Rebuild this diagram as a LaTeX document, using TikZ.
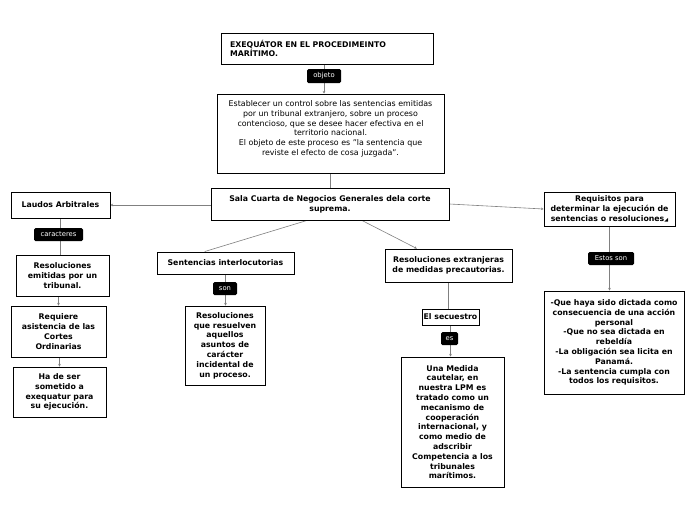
\documentclass[tikz,border=0pt]{standalone}
\usepackage{fontspec}
\setmainfont{DejaVu Sans}
\usetikzlibrary{arrows.meta,calc,backgrounds}
\begin{document}
\begin{tikzpicture}[x=1pt,y=-1pt,
 box/.style={draw=black,fill=white,line width=1pt,inner sep=0pt,align=center,font=\bfseries\fontsize{7.8}{9.8}\selectfont},
 tag/.style={fill=black,text=white,rounded corners=1.5pt,inner sep=0pt,font=\fontsize{6.8}{7}\selectfont},
 conn/.style={draw=black!50,line width=0.6pt},
 tip/.style={-{Stealth[length=2.5pt,width=2.5pt]}}]
\useasboundingbox (0,0) rectangle (696,520);
\node[box,minimum width=212,minimum height=31,text width=194,align=left] (title) at (327,48.5) {EXEQUÁTOR EN EL PROCEDIMEINTO\\MARÍTIMO.};
\node[tag,minimum width=34,minimum height=14] (obj) at (324,76) {objeto};
\node[box,font=\fontsize{7.9}{9.8}\selectfont,minimum width=227,minimum height=79] (goal) at (330.5,133.5) {\parbox[c][66pt][t]{222pt}{\centering Establecer un control sobre las sentencias emitidas\\por un tribunal extranjero, sobre un proceso\\contencioso, que se desee hacer efectiva en el\\territorio nacional.\\El objeto de este proceso es "la sentencia que\\reviste el efecto de cosa juzgada".}};
\node[box,minimum width=238,minimum height=32] (sala) at (330,204) {Sala Cuarta de Negocios Generales dela corte\\suprema.};
\node[box,minimum width=99,minimum height=26] (laudos) at (60.5,205) {Laudos Arbitrales};
\node[tag,minimum width=49,minimum height=13] (car) at (58.5,234.5) {caracteres};
\node[box,minimum width=93,minimum height=41] (resemit) at (62.5,275.5) {Resoluciones\\emitidas por un\\tribunal.};
\node[box,minimum width=95,minimum height=51] (requiere) at (58.5,331.5) {Requiere\\asistencia de las\\Cortes\\Ordinarias};
\node[box,minimum width=93,minimum height=50] (hade) at (59.5,392) {Ha de ser\\sometido a\\exequatur para\\su ejecución.};
\node[box,minimum width=137,minimum height=22] (sent) at (225.5,263) {Sentencias interlocutorias};
\node[tag,minimum width=24,minimum height=13] (son) at (225,288.5) {son};
\node[box,minimum width=80,minimum height=79] (resque) at (225,345.5) {Resoluciones\\que resuelven\\aquellos\\asuntos de\\carácter\\incidental de\\un proceso.};
\node[box,minimum width=127,minimum height=33] (resext) at (448.5,265.5) {Resoluciones extranjeras\\de medidas precautorias.};
\node[box,minimum width=57,minimum height=16] (secu) at (450.5,317) {El secuestro};
\node[tag,minimum width=17,minimum height=13] (es) at (449.5,338.5) {es};
\node[box,minimum width=103,minimum height=130] (medida) at (452.5,422) {Una Medida\\cautelar, en\\nuestra LPM es\\tratado como un\\mecanismo de\\cooperación\\internacional, y\\como medio de\\adscribir\\Competencia a los\\tribunales\\marítimos.};
\node[box,minimum width=131,minimum height=34] (req) at (609.5,209) {Requisitos para\\determinar la ejecución de\\sentencias o resoluciones{\fontsize{5}{5}\selectfont ◢}};
\node[tag,minimum width=46,minimum height=13] (estos) at (611,258.5) {Estos son};
\node[box,minimum width=140,minimum height=103] (quehaya) at (614,342.5) {-Que haya sido dictada como\\consecuencia de una acción\\personal\\-Que no sea dictada en\\rebeldía\\-La obligación sea licita en\\Panamá.\\-La sentencia cumpla con\\todos los requisitos.};
\begin{pgfonlayer}{background}
\fill[white] (0,0) rectangle (696,520);
\draw[conn,tip] (title.south -| obj) -- (goal.north -| obj);
\draw[conn] (goal.south) -- (goal.south |- sala.north);
\draw[conn,tip] (sala.west |- laudos) -- (laudos.east);
\draw[conn,tip] (sala.east) -- (req.west);
\draw[conn] ($(sala.south west)!0.403!(sala.south east)$) -- ($(sent.north west)!0.35!(sent.north east)$);
\draw[conn,tip] ($(sala.south west)!0.634!(sala.south east)$) -- ($(resext.north west)!0.252!(resext.north east)$);
\draw[conn,line width=1.4pt] (laudos.south) -- (laudos.south |- resemit.north);
\draw[conn,tip] (resemit.south -| requiere) -- (requiere.north);
\draw[conn,tip] (requiere.south -| hade) -- (hade.north);
\draw[conn,tip] (sent.south) -- (sent.south |- resque.north);
\draw[conn] (resext.south) -- (resext.south |- secu.north);
\draw[conn,tip] (secu.south) -- (secu.south |- medida.north);
\draw[conn,tip] (req.south) -- (req.south |- quehaya.north);
\end{pgfonlayer}
\end{tikzpicture}
\end{document}
